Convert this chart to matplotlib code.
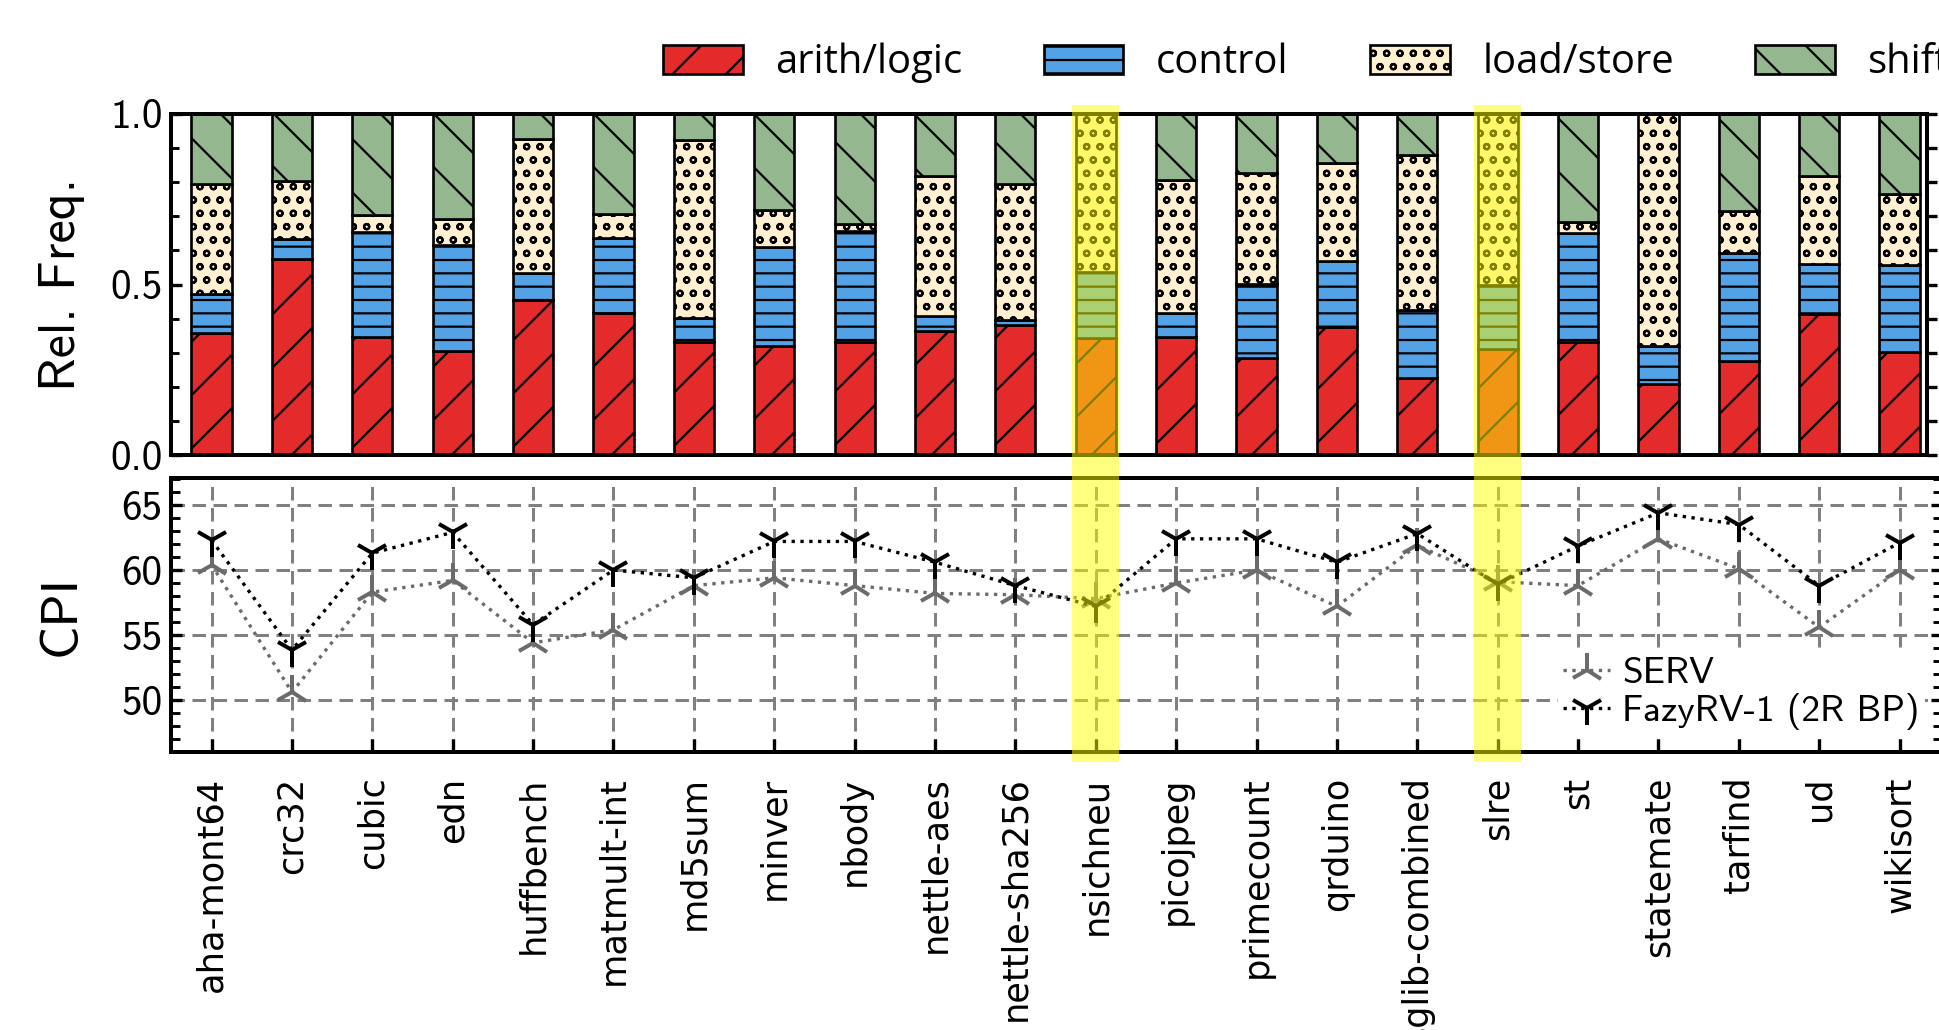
import matplotlib
matplotlib.use('Agg')
import matplotlib.pyplot as plt
import matplotlib.transforms as mtrans
from matplotlib.patches import Rectangle
from matplotlib.ticker import MultipleLocator, FormatStrFormatter
import numpy as np

benchmarks = ['aha-mont64', 'crc32', 'cubic', 'edn', 'huffbench', 'matmult-int',
              'md5sum', 'minver', 'nbody', 'nettle-aes', 'nettle-sha256', 'nsichneu',
              'picojpeg', 'primecount', 'qrduino', 'sglib-combined', 'slre', 'st',
              'statemate', 'tarfind', 'ud', 'wikisort']
categories = ['arith/logic', 'control', 'load/store', 'shift']
arith = [0.358, 0.574, 0.346, 0.304, 0.454, 0.417, 0.331, 0.321, 0.331, 0.363, 0.380,
         0.343, 0.345, 0.284, 0.375, 0.225, 0.312, 0.331, 0.209, 0.275, 0.414, 0.301]
control = [0.113, 0.060, 0.308, 0.311, 0.080, 0.220, 0.071, 0.290, 0.326, 0.046, 0.015,
           0.194, 0.072, 0.218, 0.194, 0.201, 0.186, 0.319, 0.112, 0.318, 0.145, 0.256]
load_store = [0.323, 0.170, 0.049, 0.076, 0.392, 0.071, 0.522, 0.107, 0.021, 0.410, 0.399,
              0.463, 0.390, 0.326, 0.287, 0.453, 0.502, 0.034, 0.679, 0.123, 0.260, 0.208]
shift = [0.206, 0.196, 0.297, 0.309, 0.074, 0.292, 0.076, 0.282, 0.322, 0.181, 0.206,
         0.000, 0.193, 0.172, 0.144, 0.121, 0.000, 0.316, 0.000, 0.284, 0.181, 0.235]
cpi_serv = [60.4, 50.6, 58.3, 59.2, 54.4, 55.4, 58.8, 59.4, 58.8, 58.2, 58.1,
            57.8, 59.0, 60.0, 57.2, 61.9, 59.1, 58.8, 62.4, 60.1, 55.6, 60.0]
cpi_fazy = [62.3, 53.85, 61.3, 62.9, 55.8, 60.0, 59.4, 62.2, 62.2, 60.6, 58.8,
            57.2, 62.4, 62.4, 60.6, 62.8, 58.9, 61.85, 64.4, 63.5, 58.8, 62.1]
highlighted = ['nsichneu', 'slre']

colors = ['#e32b2b', '#54a2e6', '#fef0d0', '#94b78f']
hatches = ['/', '--', 'oo', '\\']

W, H, DPI = 1939, 1030, 160
fig = plt.figure(figsize=(W / DPI, H / DPI), dpi=DPI)


def px(l, r, t, b):
    return [l / W, 1 - b / H, (r - l) / W, (b - t) / H]


unit = 80.38
left_px = 171.4
ax1 = fig.add_axes(px(left_px, 1927, 114, 455))
ax2 = fig.add_axes(px(left_px, 1942, 478, 752))
x = np.arange(len(benchmarks))
ax1.set_xlim(-0.5, -0.5 + (1927 - left_px) / unit)
ax2.set_xlim(-0.5, -0.5 + (1942 - left_px) / unit)

CMSS = 'cmss10'

# ---- top: stacked bars
bottoms = np.zeros(len(benchmarks))
handles = []
for vals, c, h, lab in zip([arith, control, load_store, shift], colors, hatches, categories):
    bc = ax1.bar(x, vals, 0.5, bottom=bottoms, color=c, hatch=h, edgecolor='black',
                 linewidth=1.2, label=lab, zorder=2)
    handles.append(bc)
    bottoms = bottoms + np.array(vals)

ax1.set_ylim(0, 1)
ax1.yaxis.set_major_locator(MultipleLocator(0.5))
ax1.yaxis.set_minor_locator(MultipleLocator(0.1))
ax1.yaxis.set_major_formatter(FormatStrFormatter('%.1f'))
ax1.tick_params(axis='x', which='both', bottom=False, labelbottom=False)
ax1.tick_params(axis='y', which='major', direction='in', length=5, width=1.5,
                labelsize=18.5, pad=4, labelfontfamily=CMSS)
ax1.tick_params(axis='y', which='minor', direction='in', length=3.5, width=1.3)
for s in ax1.spines.values():
    s.set_linewidth(1.8)

ax1r = ax1.twinx()
ax1r.set_ylim(0, 1)
ax1r.yaxis.set_major_locator(MultipleLocator(0.5))
ax1r.yaxis.set_minor_locator(MultipleLocator(0.1))
ax1r.tick_params(axis='y', which='both', direction='out', length=4.5, width=1.5,
                 labelright=False)
for s in ax1r.spines.values():
    s.set_linewidth(1.8)

ax1.set_ylabel('Rel. Freq.', fontsize=23.5, family=CMSS)
ax1.yaxis.set_label_coords(85 / W, 0.5,
                           transform=mtrans.blended_transform_factory(fig.transFigure, ax1.transAxes))

fig.legend(handles, categories, ncol=4, loc='center left',
           bbox_to_anchor=(663 / W, 1 - 63 / H), frameon=False, borderpad=0,
           borderaxespad=0, handlelength=1.99, handleheight=0.75, handletextpad=0.82,
           columnspacing=2.03, prop={'family': 'Open Sans', 'size': 18})

# ---- bottom: CPI
ax2.plot(x, cpi_serv, linestyle=':', color='#6b6b6b', marker='2', ms=15.3, mew=1.8,
         lw=1.5, label='SERV', zorder=3)
ax2.plot(x, cpi_fazy, linestyle=':', color='black', marker='1', ms=15.3, mew=1.8,
         lw=1.5, label='FazyRV-1 (2R BP)', zorder=4)
ax2.set_ylim(46, 67.08)
ax2.yaxis.set_major_locator(MultipleLocator(5))
ax2.yaxis.set_minor_locator(MultipleLocator(1))
ax2.grid(True, which='major', color='#808080', linestyle=(0, (4.5, 2.5)), lw=1.35)
ax2.set_xticks(x)
ax2.set_xticklabels(benchmarks, rotation=90, fontsize=15.8, family='DejaVu Sans')
ax2.tick_params(axis='x', which='major', direction='in', length=6, width=1.5, pad=11)
ax2.tick_params(axis='y', which='major', direction='in', length=5, width=1.5,
                left=True, right=True, labelsize=18.5, pad=4, labelfontfamily=CMSS)
ax2.tick_params(axis='y', which='minor', direction='in', length=4, width=1.3,
                left=True, right=True)
for s in ax2.spines.values():
    s.set_linewidth(1.8)
ax2.set_ylabel('CPI', fontsize=23.5, family=CMSS)
ax2.yaxis.set_label_coords(85 / W, 0.5,
                           transform=mtrans.blended_transform_factory(fig.transFigure, ax2.transAxes))
leg = ax2.legend(loc='lower right', frameon=True, framealpha=1, fancybox=False,
                 borderpad=0.15, borderaxespad=0.45, handlelength=1.25,
                 handletextpad=0.32, labelspacing=0.07,
                 prop={'family': CMSS, 'size': 16.8})
leg.get_frame().set_edgecolor('white')
leg.get_frame().set_linewidth(0)

# ---- highlight bands
trans = mtrans.blended_transform_factory(ax2.transData, fig.transFigure)
for name in highlighted:
    i = benchmarks.index(name)
    fig.add_artist(Rectangle((i - 0.29, 1 - 762 / H), 0.58, (762 - 105) / H,
                             transform=trans, facecolor='yellow', edgecolor='none',
                             alpha=0.5, zorder=10))

fig.savefig('out.png', dpi=DPI)
